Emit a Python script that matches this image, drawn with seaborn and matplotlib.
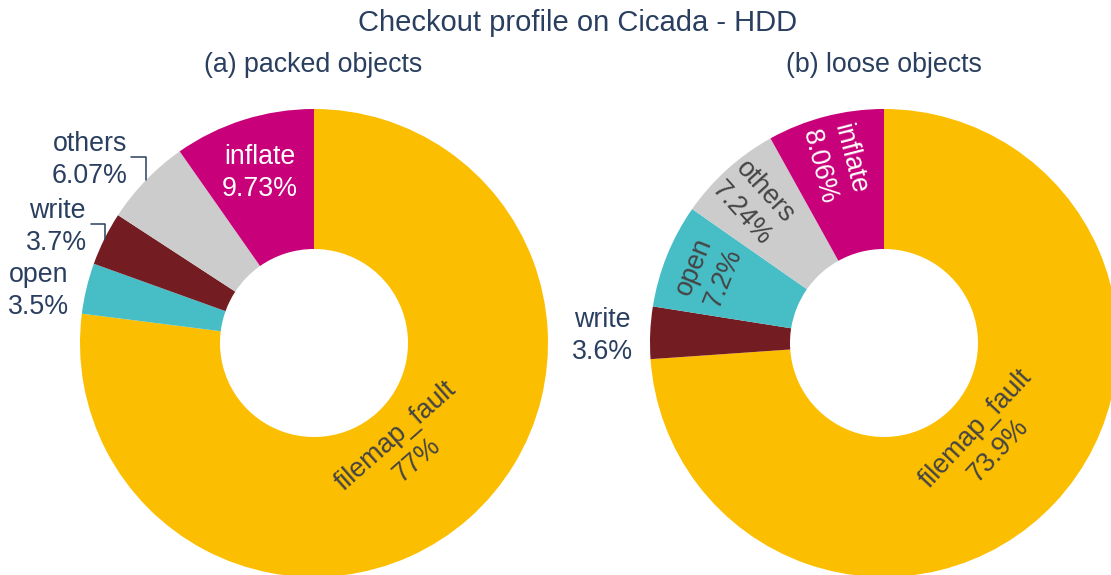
import matplotlib
matplotlib.use('Agg')
import matplotlib.pyplot as plt
import numpy as np
import seaborn as sns

# --- data ---------------------------------------------------------------
labels_a = ['filemap_fault', 'open', 'write', 'others', 'inflate']
share_a = [77.0, 3.5, 3.7, 6.07, 9.73]
labels_b = ['filemap_fault', 'write', 'open', 'others', 'inflate']
share_b = [73.9, 3.6, 7.2, 7.24, 8.06]

colors = {'filemap_fault': '#FBBE00', 'open': '#47BDC6', 'write': '#731C21',
          'others': '#CCCCCC', 'inflate': '#C8007A'}
text_in = {'filemap_fault': '#444444', 'open': '#444444', 'write': 'white',
           'others': '#444444', 'inflate': 'white'}
FG = '#2A3F5F'

# label placement: (mode, radius or gap, vertical shift)
place_a = {'filemap_fault': ('tan', 137, 0), 'inflate': ('hor', 181, 0),
           'others': ('out', 18, 23), 'write': ('out', 17, 15), 'open': ('out', 17, 0)}
place_b = {'filemap_fault': ('tan', 138, 0), 'inflate': ('rad', 187, 0),
           'others': ('rad', 192, 0), 'open': ('tan', 192, 0), 'write': ('out', 17, 0)}

sns.set_theme(style='white')
plt.rcParams['font.family'] = ['Liberation Sans', 'DejaVu Sans']

W, H = 1111, 575
fig = plt.figure(figsize=(W / 100, H / 100), dpi=100)
ax = fig.add_axes([0, 0, 1, 1])

R, HOLE = 234, 94
FS = 19.3
LS = 1.3
NUDGE = 3  # matplotlib centres text a little higher than the reference


def norm(a):
    a = (a + 180) % 360 - 180
    if a > 90:
        a -= 180
    elif a <= -90:
        a += 180
    return a


def donut(cx, cy, labels, vals, place):
    wedges, _ = ax.pie(vals, colors=[colors[l] for l in labels], startangle=90,
                       counterclock=False, radius=R, center=(cx, cy),
                       wedgeprops=dict(width=R - HOLE, linewidth=0))
    for w, lab, v in zip(wedges, labels, vals):
        mid = (w.theta1 + w.theta2) / 2
        txt = f'{lab}\n{v:.3g}%'
        mode, r, dy = place[lab]
        c, s = np.cos(np.radians(mid)), np.sin(np.radians(mid))
        if mode == 'out':
            ox, oy = cx + R * c, cy + R * s
            ty = oy + dy
            ax.text(ox - r, ty - NUDGE, txt, ha='right', va='center',
                    multialignment='center', fontsize=FS, color=FG, linespacing=LS)
            if dy:
                ax.plot([ox, ox, ox - r + 3], [oy, ty, ty], color=FG, lw=1.1)
        else:
            rot = {'tan': norm(mid + 90), 'rad': norm(mid), 'hor': 0}[mode]
            nx = NUDGE * np.sin(np.radians(rot))
            ny = -NUDGE * np.cos(np.radians(rot))
            ax.text(cx + r * c + nx, cy + r * s + ny, txt, ha='center', va='center',
                    multialignment='center', rotation=rot, rotation_mode='anchor',
                    fontsize=FS, color=text_in[lab], linespacing=LS)


donut(314, H - 343, labels_a, share_a, place_a)
donut(884, H - 343, labels_b, share_b, place_b)

ax.set_xlim(0, W)
ax.set_ylim(0, H)
ax.set_aspect('auto')
ax.axis('off')

fig.text(578 / W, 1 - 23 / H, 'Checkout profile on Cicada - HDD', ha='center', va='center',
         fontsize=21, color=FG)
fig.text(313 / W, 1 - 65 / H, '(a) packed objects', ha='center', va='center',
         fontsize=FS, color=FG)
fig.text(884 / W, 1 - 65 / H, '(b) loose objects', ha='center', va='center',
         fontsize=FS, color=FG)

fig.savefig('out.png', dpi=100, facecolor='white')
